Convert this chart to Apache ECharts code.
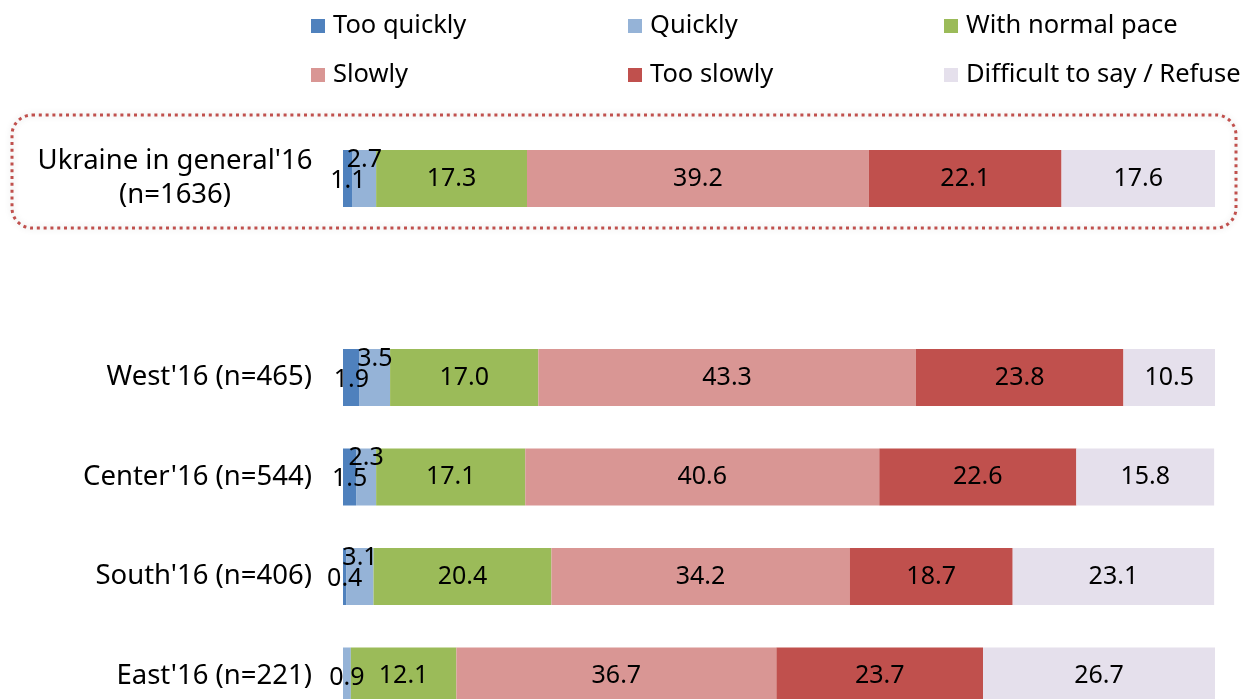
<!DOCTYPE html>
<html>
<head>
<meta charset="utf-8">
<script src="https://cdn.jsdelivr.net/npm/echarts@6/dist/echarts.min.js"></script>
<style>
  html, body { margin: 0; padding: 0; background: #fff; }
  #chart { width: 1260px; height: 699px; }
</style>
</head>
<body>
<div id="chart"></div>
<script>
// Regions (top to bottom); the empty entry leaves a gap under the national total
const categories = ["Ukraine in general'16\n(n=1636)", "", "West'16 (n=465)", "Center'16 (n=544)", "South'16 (n=406)", "East'16 (n=221)"];

const seriesNames = ["Too quickly", "Quickly", "With normal pace", "Slowly", "Too slowly", "Difficult to say / Refuse"];

// Share of answers, %
const tooQuickly   = [1.1, null, 1.9, 1.5, 0.4, 0];
const quickly      = [2.7, null, 3.5, 2.3, 3.1, 0.9];
const normalPace   = [17.3, null, 17.0, 17.1, 20.4, 12.1];
const slowly       = [39.2, null, 43.3, 40.6, 34.2, 36.7];
const tooSlowly    = [22.1, null, 23.8, 22.6, 18.7, 23.7];
const difficult    = [17.6, null, 10.5, 15.8, 23.1, 26.7];

const colors = ["#4f81bd", "#95b3d7", "#9bbb59", "#d99694", "#c0504d", "#e5e0ec"];

const FONT = "Noto Sans";
const chart = echarts.init(document.getElementById('chart'), null, { renderer: 'canvas' });

const valueLabel = {
  show: true,
  position: 'inside',
  color: '#000',
  fontFamily: FONT,
  fontSize: 25,
  formatter: p => (p.value > 0 ? p.value.toFixed(1) : '')
};

function makeSeries(name, values, idx) {
  let layout = { hideOverlap: false };
  if (idx === 0) {
    // thin first segment: label sits slightly below the centre
    layout = () => ({ dy: 2, hideOverlap: false });
  } else if (idx === 1) {
    // lift the label when it would collide with the first segment's label
    layout = p => ({ dy: tooQuickly[p.dataIndex] > 0 ? -19 : 2, hideOverlap: false });
  }
  return {
    name: name,
    type: 'bar',
    stack: 'total',
    barWidth: 57,
    itemStyle: { color: colors[idx] },
    label: valueLabel,
    labelLayout: layout,
    emphasis: { disabled: true },
    data: values
  };
}

const allValues = [tooQuickly, quickly, normalPace, slowly, tooSlowly, difficult];

const legendText = { fontFamily: FONT, fontSize: 25.5, color: '#000', lineHeight: 30, padding: [0, 0, 0, 3] };
function legendCol(left, names) {
  return {
    orient: 'vertical',
    left: left,
    top: 11,
    padding: 0,
    itemWidth: 14,
    itemHeight: 14,
    itemGap: 19,
    icon: 'rect',
    selectedMode: false,
    textStyle: legendText,
    data: names
  };
}

const option = {
  animation: false,
  backgroundColor: '#fff',
  legend: [
    legendCol(311, [seriesNames[0], seriesNames[3]]),
    legendCol(628, [seriesNames[1], seriesNames[4]]),
    legendCol(944, [seriesNames[2], seriesNames[5]])
  ],
  // the last band runs past the bottom edge of the canvas
  grid: { left: 343, right: 45, top: 128.75, height: 597, containLabel: false, outerBoundsMode: 'none' },
  xAxis: {
    type: 'value',
    min: 0,
    max: 100,
    show: false
  },
  yAxis: {
    type: 'category',
    inverse: true,
    data: categories,
    axisLine: { show: false },
    axisTick: { show: false },
    axisLabel: {
      margin: 31,
      color: '#000',
      fontFamily: FONT,
      fontSize: 27.5,
      formatter: v => v.indexOf('\n') >= 0
        ? v.split('\n').map(l => '{c|' + l + '}').join('\n')
        : '{r|' + v + '}',
      rich: {
        c: { width: 274, align: 'center', fontFamily: FONT, fontSize: 27.5, lineHeight: 34, color: '#000' },
        r: { fontFamily: FONT, fontSize: 27.5, color: '#000' }
      }
    }
  },
  series: seriesNames.map((n, i) => makeSeries(n, allValues[i], i)),
  graphic: [{
    type: 'rect',
    z: 10,
    shape: { x: 12, y: 115, width: 1224, height: 113, r: 20 },
    style: {
      fill: 'transparent',
      stroke: '#c0504d',
      lineWidth: 3,
      lineDash: [3, 3.8],
      shadowBlur: 6,
      shadowColor: 'rgba(0,0,0,0.18)'
    },
    silent: true
  }]
};

chart.setOption(option);
</script>
</body>
</html>
